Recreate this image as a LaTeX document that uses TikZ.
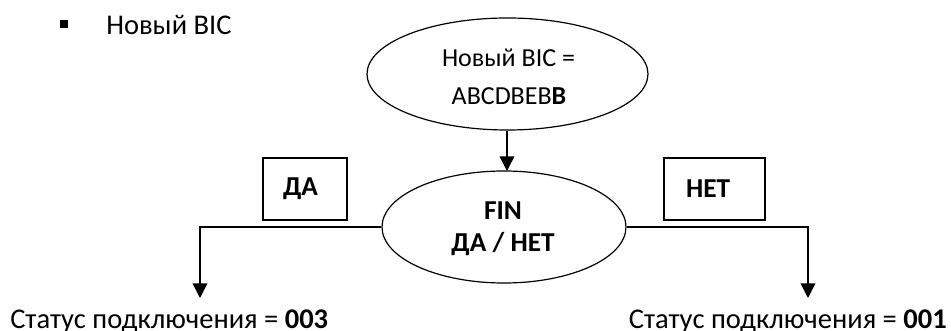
\documentclass[tikz,border=0pt]{standalone}
\usepackage{fontspec}
\setmainfont{Carlito}
\usetikzlibrary{arrows.meta}
\newdimen\pxu \pxu=0.75pt
\begin{document}
\begin{tikzpicture}[x=0.75pt,y=-0.75pt,
  conn/.style={line width=1.1pt},
  arr/.style={conn,-{Triangle[width=11pt,length=11pt]}},
  oval/.style={draw,ellipse,line width=0.9pt,inner sep=0pt},
  labelbox/.style={draw,line width=1.3pt,minimum height=62\pxu,inner ysep=0pt,align=left,
    font=\fontsize{20.5pt}{24pt}\selectfont\bfseries},
  headtxt/.style={inner sep=0pt,font=\fontsize{21.4pt}{26pt}\selectfont},
  ovaltxt/.style={inner sep=0pt,font=\fontsize{19.5pt}{24pt}\selectfont},
  boldtxt/.style={inner sep=0pt,font=\fontsize{20.5pt}{24pt}\selectfont\bfseries},
  bottxt/.style={inner sep=0pt,font=\fontsize{21.4pt}{26pt}\selectfont}]
\useasboundingbox (0,0) rectangle (951,331);
\usetikzlibrary{shapes.geometric}
% bullet and heading
\node[fill=black,minimum size=8\pxu,inner sep=0pt] (bullet) at (64,24) {};
\node[headtxt,anchor=base west] (head) at (106,35) {Новый BIC};
% top ellipse
\node[oval,minimum width=281\pxu,minimum height=112\pxu] (top) at (507.5,74) {};
\node[ovaltxt,anchor=base] (t1) at (508.5,67) {Новый BIC =};
\node[ovaltxt,anchor=base] (t2) at (509,105) {ABCDBEB\textbf{B}};
% decision ellipse
\node[oval,minimum width=244\pxu,minimum height=112\pxu] (fin) at (504,227) {};
\node[boldtxt,anchor=base] (f1) at (503,220) {FIN};
\node[boldtxt,anchor=base] (f2) at (503,252) {ДА / НЕТ};
% label boxes
\node[labelbox,minimum width=84\pxu,inner xsep=20\pxu,text width=44\pxu] (yes) at (305,189) {ДА};
\node[labelbox,minimum width=101\pxu,inner xsep=22\pxu,text width=57\pxu] (no) at (714.5,189) {НЕТ};
% results
\node[bottxt,anchor=base west] (r1) at (10,329) {Статус подключения = \textbf{003}};
\node[bottxt,anchor=base east] (r2) at (947,329) {Статус подключения = \textbf{001}};
\coordinate (e1) at (200,298);
\coordinate (e2) at (808,298);
% connectors
\draw[arr] (top.south -| 507,0) -- (507,171);
\draw[arr] (fin.west) -| (e1);
\draw[arr] (fin.east) -| (e2);
\end{tikzpicture}
\end{document}
